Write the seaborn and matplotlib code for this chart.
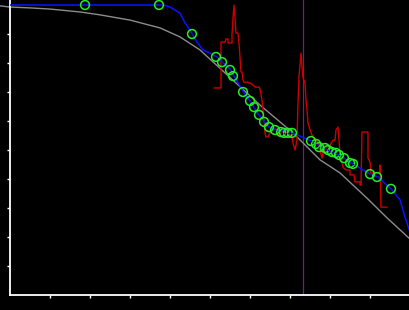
import matplotlib
matplotlib.use("Agg")
import matplotlib.pyplot as plt
import seaborn as sns
import pandas as pd

# smooth reference curve (gray)
curve_x = [-0.25, 0.0, 0.5, 1.0, 1.75, 2.25, 3.0, 3.75, 4.25, 4.75, 5.5, 6.25, 7.075, 7.75, 8.25, 8.925, 9.425, 10.0]
curve_y = [9.97, 9.93, 9.90, 9.86, 9.76, 9.66, 9.48, 9.21, 8.90, 8.45, 7.50, 6.55, 5.59, 4.66, 4.21, 3.34, 2.66, 1.93]

# fitted path (blue)
fit_x = [0.0, 3.825, 4.0, 4.25, 4.375, 4.5, 4.675, 4.825, 5.0, 5.175, 5.5, 5.825, 6.0, 6.2, 6.35,
         6.475, 6.675, 7.025, 7.525, 7.875, 8.225, 8.575, 9.0, 9.2, 9.525, 9.75, 9.875, 10.0]
fit_y = [10.0, 10.0, 9.93, 9.72, 9.38, 9.14, 8.72, 8.45, 8.34, 8.21, 7.79, 7.03, 6.69, 6.24, 6.0,
         5.79, 5.69, 5.62, 5.31, 5.03, 4.83, 4.52, 4.17, 4.07, 3.66, 3.28, 2.69, 2.17]

# observed points (green circles)
obs_x = [1.875, 3.725, 4.55, 5.15, 5.3, 5.5, 5.575, 5.825, 6.0, 6.1, 6.225, 6.35, 6.475, 6.625, 6.775,
         6.85, 6.95, 7.05, 7.525, 7.65, 7.725, 7.875, 7.95, 8.05, 8.15, 8.225, 8.35, 8.5, 8.575,
         9.0, 9.175, 9.525]
obs_y = [10.0, 10.0, 9.0, 8.21, 8.03, 7.76, 7.55, 7.0, 6.69, 6.48, 6.21, 5.97, 5.79, 5.69, 5.62,
         5.59, 5.59, 5.59, 5.31, 5.21, 5.10, 5.07, 5.0, 4.93, 4.90, 4.83, 4.72, 4.55, 4.52,
         4.17, 4.07, 3.66]

# raw step signal (red)
raw_x = [5.10, 5.275, 5.275, 5.375, 5.40, 5.45, 5.45, 5.55, 5.55, 5.575, 5.60, 5.625, 5.65, 5.70,
         5.725, 5.775, 5.80, 5.825, 5.85, 5.925, 6.0, 6.075, 6.125, 6.225, 6.25, 6.30, 6.325, 6.35,
         6.375, 6.40, 6.45, 6.50, 6.55, 6.65, 6.675, 6.725, 6.80, 6.925, 7.05, 7.075, 7.125, 7.175,
         7.20, 7.225, 7.275, 7.30, 7.325, 7.35, 7.375, 7.40, 7.425, 7.45, 7.525, 7.575, 7.65, 7.70,
         7.75, 7.80, 7.825, 7.875, 7.925, 8.0, 8.075, 8.125, 8.15, 8.20, 8.225, 8.25, 8.325, 8.40,
         8.5, 8.5, 8.6, 8.625, 8.75, 8.75, 8.775, 8.80, 8.95, 8.95, 9.0, 9.025, 9.25, 9.25, 9.275, 9.425]
raw_y = [7.14, 7.14, 8.72, 8.72, 8.83, 8.83, 8.69, 8.69, 8.97, 9.55, 10.0, 9.55, 9.03, 9.03,
         8.69, 7.69, 7.69, 7.41, 7.34, 7.34, 7.31, 7.24, 7.17, 7.17, 7.10, 6.72, 6.38, 6.03,
         5.59, 5.45, 5.45, 5.59, 5.72, 5.72, 5.52, 5.52, 5.62, 5.62, 5.45, 5.24, 5.0, 5.34,
         6.62, 7.52, 8.34, 7.86, 7.48, 7.41, 7.31, 6.72, 6.38, 5.93, 5.59, 5.45, 5.34, 5.24,
         5.0, 4.72, 4.90, 5.0, 5.10, 5.17, 5.34, 5.34, 5.69, 5.79, 5.34, 4.90, 4.41, 4.31,
         4.31, 4.14, 4.14, 3.90, 3.90, 3.79, 3.79, 5.62, 5.62, 4.72, 4.59, 4.21, 4.21, 4.48, 3.03, 3.03]

marker_x = 7.325
x_ticks = [1, 2, 3, 4, 5, 6, 7, 8, 9]
y_ticks = [1, 2, 3, 4, 5, 6, 7, 8, 9]

sns.set_style("dark", {"axes.facecolor": "black", "figure.facecolor": "black"})

fig = plt.figure(figsize=(4.1, 3.1), dpi=100, facecolor="black")
ax = fig.add_axes([10 / 410, 15 / 310, 400 / 410, 295 / 310])
ax.set_facecolor("black")

curve = pd.DataFrame({"x": curve_x, "y": curve_y})
fit = pd.DataFrame({"x": fit_x, "y": fit_y})
obs = pd.DataFrame({"x": obs_x, "y": obs_y})
raw = pd.DataFrame({"x": raw_x, "y": raw_y})

sns.lineplot(data=curve, x="x", y="y", ax=ax, color="#8c8c8c", lw=1.0,
             estimator=None, sort=False, clip_on=False, zorder=2)
ax.axvline(marker_x, color="#7a1a7a", lw=0.9, zorder=1)
sns.lineplot(data=raw, x="x", y="y", ax=ax, color="#cc0000", lw=1.0,
             estimator=None, sort=False, zorder=3)
sns.lineplot(data=fit, x="x", y="y", ax=ax, color="#0a14ff", lw=1.1,
             estimator=None, sort=False, zorder=4)
sns.scatterplot(data=obs, x="x", y="y", ax=ax, s=40, facecolor="none",
                edgecolor="#22ee22", linewidth=1.1, zorder=5, clip_on=False)
sns.scatterplot(data=obs, x="x", y="y", ax=ax, s=1.5, color="#101080",
                linewidth=0, zorder=6, clip_on=False)

ax.set_xlim(0, 10)
ax.set_ylim(0, 295 / 29)
ax.set_xticks(x_ticks)
ax.set_yticks(y_ticks)
ax.set_xticklabels([])
ax.set_yticklabels([])
ax.set_xlabel("")
ax.set_ylabel("")
ax.grid(False)
for side in ["top", "right"]:
    ax.spines[side].set_visible(False)
for side in ["left", "bottom"]:
    ax.spines[side].set_visible(True)
    ax.spines[side].set_color("white")
    ax.spines[side].set_linewidth(1.3)
ax.tick_params(axis="both", colors="white", direction="out", length=2.5, width=1.0,
               bottom=True, left=True)

fig.savefig("out.png", dpi=100, facecolor="black")
